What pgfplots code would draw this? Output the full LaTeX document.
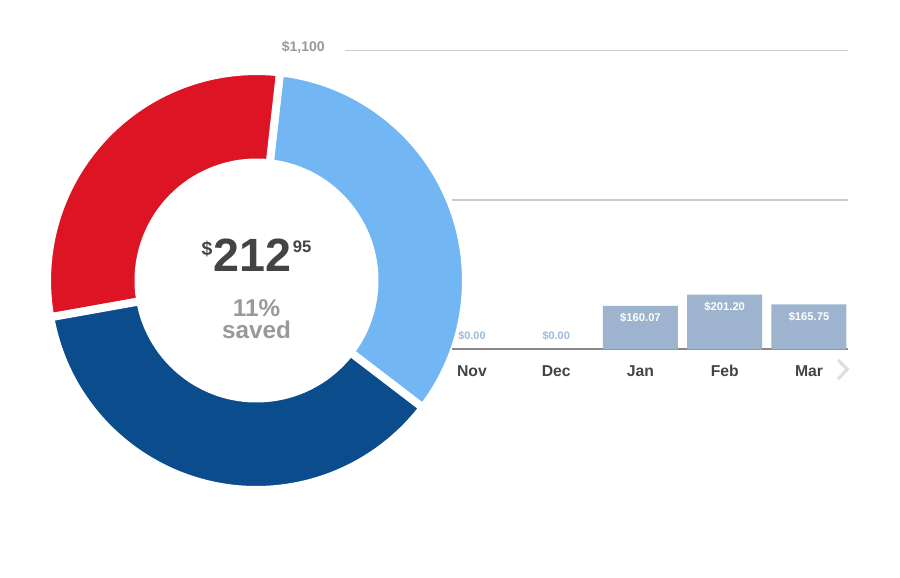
\documentclass[border=0pt]{standalone}
\usepackage{pgfplots}
\pgfplotsset{compat=1.18}
\usepackage{pgfplotstable}
\usepackage{fontspec}
\setmainfont{Liberation Sans}

\definecolor{segred}{RGB}{220,20,35}
\definecolor{seglight}{RGB}{114,182,243}
\definecolor{segdark}{RGB}{11,77,140}
\definecolor{barfill}{RGB}{158,180,206}
\definecolor{zerolabel}{RGB}{160,186,218}
\definecolor{darktext}{RGB}{68,68,68}
\definecolor{graytext}{RGB}{153,153,153}
\definecolor{gridgray}{RGB}{204,204,204}
\definecolor{basegray}{RGB}{136,136,136}
\definecolor{chevron}{RGB}{222,222,222}

% donut ring, percent of the ring, counter-clockwise from the lower right gap
\pgfplotstableread{
share
33.6
29.6
36.8
}\donutdata

\pgfplotstableread{
x month value
0 Nov 0.00
1 Dec 0.00
2 Jan 160.07
3 Feb 201.20
4 Mar 165.75
}\bardata

% one ring segment, drawn around axis cs:0,0
\newcommand\donutwedge[3]{%
  \fill[#3, draw=white, line width=6pt]
    ([shift={(#1:157.1pt)}]axis cs:0,0) arc[start angle=#1, end angle=#2, radius=157.1pt]
    -- ([shift={(#2:88.5pt)}]axis cs:0,0) arc[start angle=#2, end angle=#1, radius=88.5pt]
    -- cycle;}

\begin{document}
\begin{tikzpicture}
\pgfplotstablegetelem{0}{share}\of\donutdata \let\shareA\pgfplotsretval
\pgfplotstablegetelem{1}{share}\of\donutdata \let\shareB\pgfplotsretval
\pgfplotstablegetelem{2}{share}\of\donutdata \let\shareC\pgfplotsretval
\pgfmathsetmacro\angA{-37.4}
\pgfmathsetmacro\angB{\angA+3.6*\shareA}
\pgfmathsetmacro\angC{\angB+3.6*\shareB}
\pgfmathsetmacro\angD{\angC+3.6*\shareC}
\fill[white] (0,0) rectangle (675pt,-433.5pt);

% donut
\begin{axis}[
  at={(192.375pt,-210.375pt)}, anchor=center,
  scale only axis, width=315pt, height=315pt,
  xmin=-210, xmax=210, ymin=-210, ymax=210,
  hide axis, clip=false,
]
\donutwedge{\angA}{\angB}{seglight}
\donutwedge{\angB}{\angC}{segred}
\donutwedge{\angC}{\angD}{segdark}
\node[anchor=base, inner sep=0pt, text=darktext, font=\bfseries] at (axis cs:0,9.5)
  {\raisebox{12pt}{\fontsize{14.5}{14.5}\selectfont\$}\hspace{1pt}\fontsize{35}{35}\selectfont 212\hspace{1pt}\raisebox{13.8pt}{\fontsize{12.5}{12.5}\selectfont 95}};
\node[anchor=base, inner sep=0pt, text=graytext, font=\bfseries\fontsize{18.2}{18.2}\selectfont] at (axis cs:0,-36) {11\%};
\node[anchor=base, inner sep=0pt, text=graytext, font=\bfseries\fontsize{18.2}{18.2}\selectfont] at (axis cs:0,-58.2) {saved};
\end{axis}

% monthly bars
\begin{axis}[
  at={(339pt,-261.975pt)}, anchor=south west,
  scale only axis, width=297pt, height=224pt,
  xmin=-0.237, xmax=4.463, ymin=0, ymax=1100,
  clip=false,
  axis x line*=bottom, axis y line*=left,
  x axis line style={-, draw=basegray, line width=1.3pt},
  y axis line style={draw=none},
  xtick={0,...,4}, xticklabels from table={\bardata}{month},
  ytick={550}, yticklabels={},
  major tick length=0pt,
  tick style={draw=none},
  xticklabel style={font=\bfseries\fontsize{11.8}{11.8}\selectfont, text=darktext, anchor=base, yshift=-20.5pt},
  ymajorgrids, grid style={gridgray, line width=0.9pt},
  /pgf/number format/assume math mode=true,
]
\addplot[ybar, bar width=56.25pt, bar shift=0pt, fill=barfill, draw=none,
  restrict y to domain=1:5000,
  nodes near coords={\$\pgfmathprintnumber[fixed,fixed zerofill,precision=2]{\pgfplotspointmeta}},
  every node near coord/.append style={anchor=base, text=white, yshift=-12pt,
    font=\bfseries\fontsize{8.4}{8.4}\selectfont}]
  table[x=x, y=value] {\bardata};
\addplot[draw=none, mark=none,
  restrict y to domain=-1:0.5,
  nodes near coords={\$\pgfmathprintnumber[fixed,fixed zerofill,precision=2]{\pgfplotspointmeta}},
  every node near coord/.append style={anchor=base, text=zerolabel, yshift=7.5pt,
    font=\bfseries\fontsize{8.2}{8.2}\selectfont}]
  table[x=x, y=value] {\bardata};
\draw[gridgray, line width=0.9pt] (axis cs:-1.507,1100) -- (axis cs:4.463,1100);
\node[anchor=base east, inner sep=0pt, xshift=-15pt, yshift=-0.6pt, text=graytext,
  font=\bfseries\fontsize{10.5}{10.5}\selectfont] at (axis cs:-1.507,1100) {\$1,100};
\end{axis}

% scroll arrow
\draw[chevron, line width=2.2pt] (628.5pt,-270pt) -- (635.5pt,-277pt) -- (628.5pt,-284.3pt);

\pgfresetboundingbox
\path[use as bounding box] (0,0) rectangle (675pt,-433.5pt);
\end{tikzpicture}%
\end{document}
